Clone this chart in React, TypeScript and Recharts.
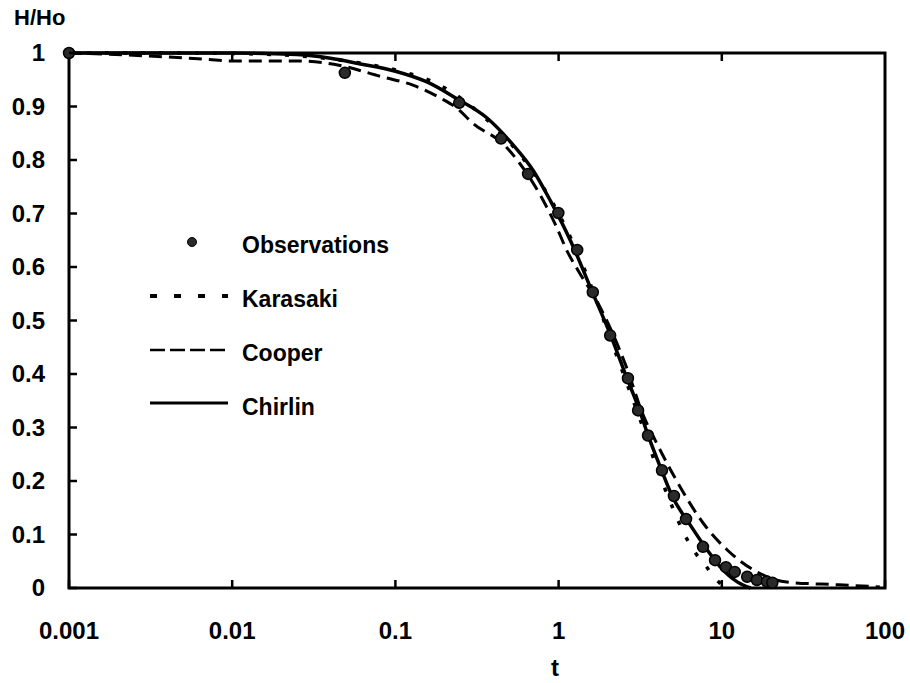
import React from "react";
import { ComposedChart, Line, Scatter, XAxis, YAxis, ReferenceArea } from "recharts";

// observations (t, H/Ho)
const obsT = [0.001, 0.049, 0.246, 0.444, 0.65, 0.996, 1.3, 1.62, 2.07, 2.66, 3.07, 3.53, 4.3, 5.09, 6.04, 7.67, 9.09, 10.6, 12.0, 14.3, 16.4, 18.9, 20.4];
const obsH = [1.0, 0.963, 0.907, 0.84, 0.774, 0.701, 0.632, 0.553, 0.472, 0.392, 0.332, 0.285, 0.22, 0.172, 0.129, 0.077, 0.052, 0.039, 0.03, 0.021, 0.015, 0.012, 0.01];

// Karasaki model
const kaT = [0.001, 0.003, 0.01, 0.03, 0.05, 0.08, 0.12, 0.17, 0.25, 0.35, 0.5, 0.7, 1.0, 1.4, 2.0, 2.6, 3.2, 4.0, 5.0, 5.8, 6.8, 7.9, 9.0, 10.5];
const kaH = [1.0, 1.0, 0.999, 0.993, 0.985, 0.975, 0.962, 0.946, 0.916, 0.88, 0.833, 0.777, 0.7, 0.605, 0.48, 0.385, 0.31, 0.225, 0.15, 0.105, 0.068, 0.043, 0.02, 0.0];

// Cooper model
const coT = [0.001, 0.0016, 0.0033, 0.007, 0.01, 0.026, 0.042, 0.084, 0.128, 0.188, 0.238, 0.3, 0.457, 0.58, 0.77, 0.95, 1.14, 1.35, 1.71, 2.61, 3.27, 4.0, 5.3, 7.7, 10.8, 15.6, 25, 52, 93];
const coH = [1.0, 0.998, 0.994, 0.988, 0.985, 0.985, 0.979, 0.955, 0.94, 0.916, 0.897, 0.868, 0.83, 0.793, 0.735, 0.681, 0.627, 0.588, 0.537, 0.412, 0.326, 0.27, 0.2, 0.121, 0.071, 0.034, 0.011, 0.006, 0.002];

// Chirlin model
const chT = [0.001, 0.01, 0.025, 0.04, 0.06, 0.1, 0.156, 0.237, 0.363, 0.52, 0.7, 0.89, 1.2, 1.6, 2.1, 2.6, 3.1, 3.5, 4.2, 5.0, 6.4, 8.1, 9.8, 12.5, 15];
const chH = [1.0, 1.0, 0.997, 0.99, 0.98, 0.966, 0.946, 0.915, 0.879, 0.83, 0.78, 0.724, 0.645, 0.555, 0.47, 0.395, 0.336, 0.289, 0.226, 0.17, 0.118, 0.072, 0.039, 0.011, 0.0];

const xTicks = [0.001, 0.01, 0.1, 1, 10, 100];
const xTickLabels = ["0.001", "0.01", "0.1", "1", "10", "100"];
const yTicks = [0, 0.1, 0.2, 0.3, 0.4, 0.5, 0.6, 0.7, 0.8, 0.9, 1];
const yTickLabels = ["0", "0.1", "0.2", "0.3", "0.4", "0.5", "0.6", "0.7", "0.8", "0.9", "1"];
const topTicks = [0.01, 0.1, 1, 10];

const legendItems = ["Observations", "Karasaki", "Cooper", "Chirlin"];

const zip = (ts: number[], hs: number[]) => ts.map((t, i) => ({ t, h: hs[i] }));

const FONT = '"Liberation Sans", Arial, Helvetica, sans-serif';
const TICK_LEN = 8;

// plot box (same numbers as the chart margins / axis sizes)
const PLOT_LEFT = 69;
const PLOT_RIGHT = 910 - 25;
const PLOT_TOP = 53;
const logX = (t: number) => PLOT_LEFT + ((Math.log10(t) + 3) / 5) * (PLOT_RIGHT - PLOT_LEFT);

const BottomTick = (props: any) => {
  const { x, y, payload } = props;
  const i = xTicks.indexOf(payload.value);
  return (
    <g>
      <line x1={x} y1={y} x2={x} y2={y - TICK_LEN} stroke="#000" strokeWidth={2.5} />
      <text x={x} y={y + 51} textAnchor="middle" fontFamily={FONT} fontWeight="bold" fontSize={24} fill="#000">
        {xTickLabels[i]}
      </text>
    </g>
  );
};

const LeftTick = (props: any) => {
  const { x, y, payload } = props;
  const i = yTicks.indexOf(payload.value);
  return (
    <g>
      <line x1={x} y1={y} x2={x + TICK_LEN} y2={y} stroke="#000" strokeWidth={2.5} />
      <text x={x - 24} y={y + 8} textAnchor="end" fontFamily={FONT} fontWeight="bold" fontSize={24} fill="#000">
        {yTickLabels[i]}
      </text>
    </g>
  );
};

const RightTick = (props: any) => {
  const { x, y } = props;
  return <line x1={x} y1={y} x2={x - TICK_LEN} y2={y} stroke="#000" strokeWidth={2.5} />;
};

const Dot = (props: any) => {
  const { cx, cy } = props;
  return <circle cx={cx} cy={cy} r={5.5} fill="#2a2a2a" stroke="#000" strokeWidth={1.5} />;
};

export default function App() {
  return (
    <div style={{ position: "absolute", left: 0, top: 0, width: 910, height: 683, background: "#fff" }}>
      <ComposedChart width={910} height={683} margin={{ top: PLOT_TOP, right: 0, bottom: 0, left: 0 }}>
        <XAxis
          xAxisId="b"
          dataKey="t"
          type="number"
          scale="log"
          domain={[0.001, 100]}
          ticks={xTicks}
          height={95}
          axisLine={false}
          tickLine={false}
          tickSize={0}
          tickMargin={0}
          tick={<BottomTick />}
        />
        <YAxis
          yAxisId="l"
          dataKey="h"
          type="number"
          domain={[0, 1]}
          ticks={yTicks}
          width={PLOT_LEFT}
          axisLine={false}
          tickLine={false}
          tickSize={0}
          tickMargin={0}
          tick={<LeftTick />}
        />
        <YAxis
          yAxisId="r"
          orientation="right"
          type="number"
          domain={[0, 1]}
          ticks={yTicks}
          width={910 - PLOT_RIGHT}
          axisLine={false}
          tickLine={false}
          tickSize={0}
          tickMargin={0}
          tick={<RightTick />}
        />
        <ReferenceArea
          xAxisId="b"
          yAxisId="l"
          x1={0.001}
          x2={100}
          y1={0}
          y2={1}
          fill="none"
          fillOpacity={0}
          stroke="#000"
          strokeWidth={3}
          ifOverflow="visible"
        />
        <Line
          xAxisId="b"
          yAxisId="l"
          data={zip(coT, coH)}
          dataKey="h"
          type="monotone"
          stroke="#000"
          strokeWidth={3}
          strokeDasharray="13 7"
          dot={false}
          activeDot={false}
          isAnimationActive={false}
        />
        <Line
          xAxisId="b"
          yAxisId="l"
          data={zip(kaT, kaH)}
          dataKey="h"
          type="monotone"
          stroke="#000"
          strokeWidth={3.5}
          strokeDasharray="4 14"
          dot={false}
          activeDot={false}
          isAnimationActive={false}
        />
        <Line
          xAxisId="b"
          yAxisId="l"
          data={zip(chT, chH)}
          dataKey="h"
          type="monotone"
          stroke="#000"
          strokeWidth={3.5}
          dot={false}
          activeDot={false}
          isAnimationActive={false}
        />
        <Scatter
          xAxisId="b"
          yAxisId="l"
          data={zip(obsT, obsH)}
          dataKey="h"
          shape={<Dot />}
          isAnimationActive={false}
        />
      </ComposedChart>
      <svg
        width={910}
        height={683}
        style={{ position: "absolute", left: 0, top: 0, pointerEvents: "none" }}
        fontFamily={FONT}
        fontWeight="bold"
      >
        {/* inward ticks on the top frame */}
        {topTicks.map((t) => (
          <line
            key={t}
            x1={logX(t)}
            y1={PLOT_TOP}
            x2={logX(t)}
            y2={PLOT_TOP + TICK_LEN}
            stroke="#000"
            strokeWidth={2.5}
          />
        ))}
        <text x={14} y={25} fontSize={22} fill="#000">H/Ho</text>
        <text x={555} y={676} fontSize={24} textAnchor="middle" fill="#000">t</text>
        <circle cx={192} cy={242} r={4.5} fill="#2a2a2a" stroke="#000" strokeWidth={1} />
        <line x1={150} y1={296} x2={228} y2={296} stroke="#000" strokeWidth={4} strokeDasharray="7 17" />
        <line x1={150} y1={350} x2={228} y2={350} stroke="#000" strokeWidth={2.5} strokeDasharray="15 5" />
        <line x1={150} y1={403} x2={228} y2={403} stroke="#000" strokeWidth={3} />
        {legendItems.map((name, i) => (
          <text key={name} x={242} y={253 + i * 54} fontSize={23} fill="#000">
            {name}
          </text>
        ))}
      </svg>
    </div>
  );
}
